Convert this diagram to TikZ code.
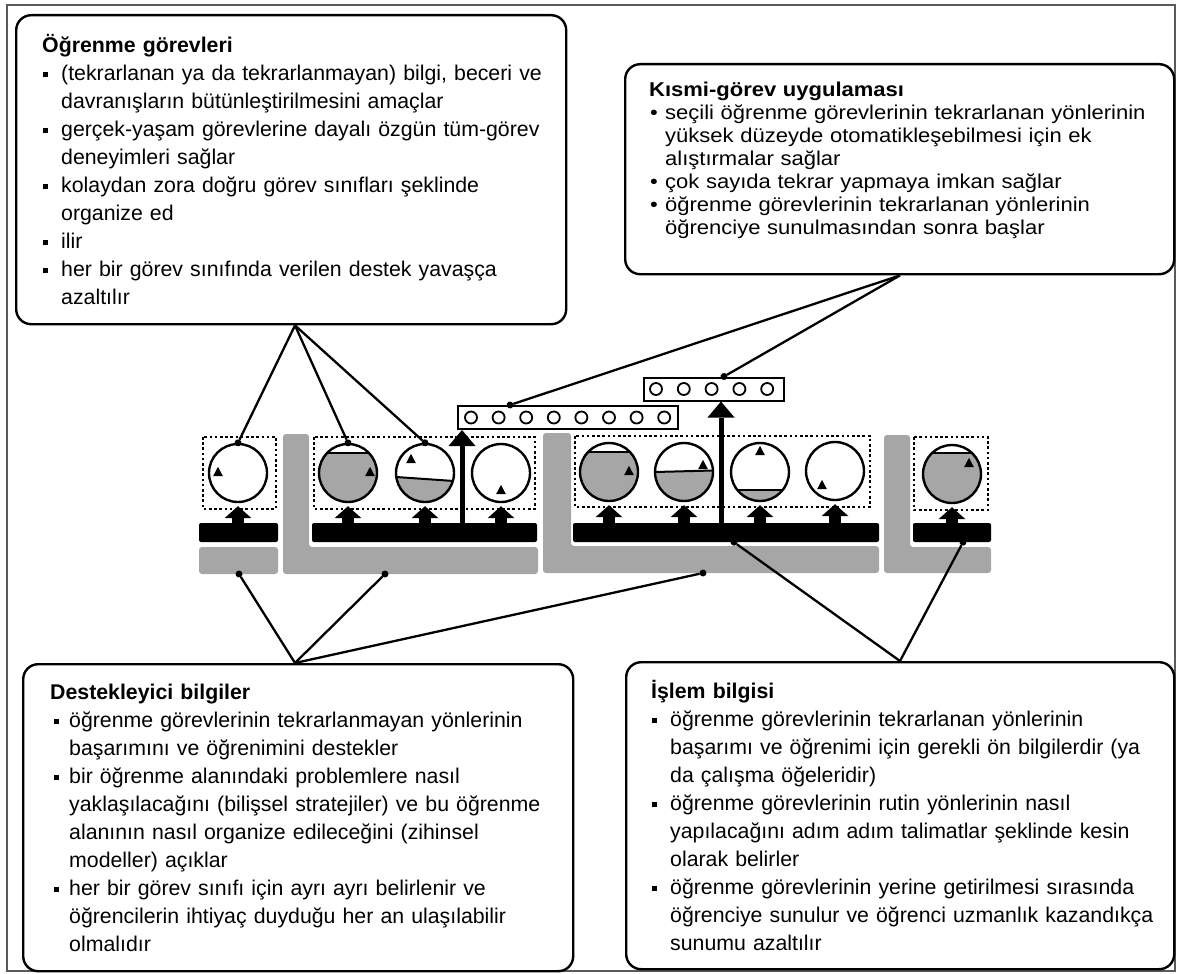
\documentclass[tikz,border=0pt]{standalone}
\usepackage{fontspec}
\setmainfont{Liberation Sans}
\newfontfamily\widefont[FakeStretch=1.1]{Liberation Sans}
\usetikzlibrary{arrows.meta, calc}
\definecolor{shadeGrey}{RGB}{166,166,166}
\definecolor{frameGrey}{RGB}{90,90,90}
\newcommand{\sqbullet}[1][1pt]{\par\hangindent=19pt\hangafter=1\noindent\hbox to 19pt{\hskip#1\rule[3.4pt]{5pt}{5pt}\hfil}\ignorespaces}
\newcommand{\rdbullet}{\par\hangindent=16pt\hangafter=1\noindent\hbox to 16pt{\hskip1pt\textbullet\hfil}\ignorespaces}
\tikzset{
    infobox/.style={
        draw, line width=2.4pt, rounded corners=15pt, anchor=north west,
        inner xsep=10pt, inner ysep=0pt, align=left,
        font=\fontsize{21.3}{28}\selectfont
    },
    task/.style={circle, draw, fill=white, line width=2.4pt, minimum size=58pt, inner sep=0pt},
    fillto/.style 2 args={path picture={
        \fill[shadeGrey] ([yshift=#1]path picture bounding box.west) -- ([yshift=#2]path picture bounding box.east)
            -- (path picture bounding box.south east) -- (path picture bounding box.south west) -- cycle;
        \draw[line width=2pt] ([yshift=#1]path picture bounding box.west) -- ([yshift=#2]path picture bounding box.east);}},
    taskclass/.style={line width=2.6pt, dash pattern=on 2.6pt off 2.6pt},
    solidbar/.style={fill=black, rounded corners=2pt, minimum height=19pt, inner sep=0pt},
    greyband/.style={fill=shadeGrey, rounded corners=3pt},
    practice/.style={draw, line width=2pt, fill=white, minimum height=23pt, inner sep=0pt},
    rep/.style={circle, draw, line width=1.8pt, minimum size=12pt, inner sep=0pt},
    lift/.style={line width=12pt, -{Triangle[length=12pt, width=27pt, line width=0pt]}, shorten >=3pt},
    rise/.style={line width=5pt, -{Triangle[length=16pt, width=27pt, line width=0pt]}},
    linkdot/.style={line width=2.3pt, -{Circle[length=7pt, line width=0pt]}, shorten >=-3.5pt},
    tri/.pic={\fill (-4.8,4) -- (4.8,4) -- (0,-5.2) -- cycle;}
}
\begin{document}
\begin{tikzpicture}[x=1pt, y=-1pt]
  \useasboundingbox (0,0) rectangle (1181,974);
  \draw[frameGrey, line width=1.2pt] (7,5) rectangle (1175,971);

  % supportive information (grey) and procedural information (black)
  \fill[greyband] (199,547) rectangle (278,574);
  \fill[greyband] (283,434) -- (309,434) -- (309,547) -- (538,547) -- (538,574) -- (283,574) -- cycle;
  \fill[greyband] (543,433) -- (571,433) -- (571,546) -- (879,546) -- (879,573) -- (543,573) -- cycle;
  \fill[greyband] (884,435) -- (910,435) -- (910,547) -- (991,547) -- (991,573) -- (884,573) -- cycle;
  \coordinate (sup1) at (239,574);
  \coordinate (sup2) at (385,574);
  \coordinate (sup3) at (703,573);
  \node[solidbar, minimum width=79pt]  (bar1) at (238.5,532.5) {};
  \node[solidbar, minimum width=225pt] (bar2) at (424.5,532.5) {};
  \node[solidbar, minimum width=306pt] (bar3) at (726,532.5) {};
  \node[solidbar, minimum width=78pt]  (bar4) at (952,532.5) {};

  % task classes
  \draw[taskclass] (203,437) rectangle (276,509);
  \draw[taskclass] (314,437) rectangle (535,509);
  \draw[taskclass] (575,436) rectangle (870,507);
  \draw[taskclass] (914,437) rectangle (988,510);

  \node[task] (c1) at (238,473) {};
  \node[task, fillto={20pt}{20pt}] (c2) at (348,473) {};
  \node[task, fillto={-4pt}{-8pt}] (c3) at (425,473) {};
  \node[task] (c4) at (501,473) {};
  \node[task, fillto={20pt}{20pt}] (c5) at (609,472) {};
  \node[task, fillto={0pt}{1.5pt}] (c6) at (684,472) {};
  \node[task, fillto={-18pt}{-18pt}] (c7) at (760,472) {};
  \node[task] (c8) at (835,471) {};
  \node[task, fillto={21pt}{21pt}] (c9) at (952,474) {};
  \pic at ($(c1)+(-20,-1)$) {tri};
  \pic at ($(c2)+(22,-1)$) {tri};
  \pic at ($(c3)+(-14,-14)$) {tri};
  \pic at ($(c4)+(0,17)$) {tri};
  \pic at ($(c5)+(20,-1)$) {tri};
  \pic at ($(c6)+(19,-7)$) {tri};
  \pic at ($(c7)+(0,-21)$) {tri};
  \pic at ($(c8)+(-13,14)$) {tri};
  \pic at ($(c9)+(17,-11)$) {tri};

  \foreach \c/\b in {c1/bar1, c2/bar2, c3/bar2, c4/bar2, c5/bar3, c6/bar3, c7/bar3, c8/bar3, c9/bar4}
    \draw[lift] (\c |- \b.north) -- (\c.south);

  % part-task practice
  \node[practice, minimum width=220pt] (practice1) at (568,417.5) {};
  \node[practice, minimum width=140pt] (practice2) at (714,389) {};
  \foreach \i in {0,...,7}
    \node[rep] at ($(practice1.west)+(14+27.6*\i,0)$) {};
  \foreach \i in {0,...,4}
    \node[rep] at ($(practice2.west)+(13+27.8*\i,0)$) {};
  \coordinate (rise1) at ($(practice1.south west)+(5,0)$);
  \coordinate (rise2) at ($(practice2.south west)+(78,0)$);
  \draw[rise] (rise1 |- bar2.center) -- (rise1);
  \draw[rise] (rise2 |- bar3.center) -- (rise2);

  % text boxes
  \node[infobox, minimum width=550pt, minimum height=309pt, text width=530pt] (tasks) at (15,14) {\leftskip=16pt
    \textbf{Öğrenme görevleri}
    \sqbullet (tekrarlanan ya da tekrarlanmayan) bilgi, beceri ve\newline davranışların bütünleştirilmesini amaçlar
    \sqbullet gerçek-yaşam görevlerine dayalı özgün tüm-görev\newline deneyimleri sağlar
    \sqbullet kolaydan zora doğru görev sınıfları şeklinde\newline organize ed
    \sqbullet ilir
    \sqbullet her bir görev sınıfında verilen destek yavaşça\newline azaltılır\par};
  \node[infobox, minimum width=549pt, minimum height=210pt, text width=529pt,
        font=\widefont\fontsize{20}{23}\selectfont] (drill) at (624,63) {\leftskip=14pt
    \textbf{Kısmi-görev uygulaması}
    \rdbullet seçili öğrenme görevlerinin tekrarlanan yönlerinin\newline yüksek düzeyde otomatikleşebilmesi için ek\newline alıştırmalar sağlar
    \rdbullet çok sayıda tekrar yapmaya imkan sağlar
    \rdbullet öğrenme görevlerinin tekrarlanan yönlerinin\newline öğrenciye sunulmasından sonra başlar\rule[-21pt]{0pt}{1pt}\par};
  \node[infobox, minimum width=550pt, minimum height=307pt, text width=530pt] (support) at (22,663) {\leftskip=17pt
    \textbf{Destekleyici bilgiler}
    \sqbullet[4pt] öğrenme görevlerinin tekrarlanmayan yönlerinin\newline başarımını ve öğrenimini destekler
    \sqbullet[4pt] bir öğrenme alanındaki problemlere nasıl\newline yaklaşılacağını (bilişsel stratejiler) ve bu öğrenme\newline alanının nasıl organize edileceğini (zihinsel\newline modeller) açıklar
    \sqbullet[4pt] her bir görev sınıfı için ayrı ayrı belirlenir ve\newline öğrencilerin ihtiyaç duyduğu her an ulaşılabilir\newline olmalıdır\par};
  \node[infobox, minimum width=548pt, minimum height=307pt, text width=528pt] (procedure) at (625,661) {\leftskip=15pt
    \textbf{İşlem bilgisi}
    \sqbullet öğrenme görevlerinin tekrarlanan yönlerinin\newline başarımı ve öğrenimi için gerekli ön bilgilerdir (ya\newline da çalışma öğeleridir)
    \sqbullet öğrenme görevlerinin rutin yönlerinin nasıl\newline yapılacağını adım adım talimatlar şeklinde kesin\newline olarak belirler
    \sqbullet öğrenme görevlerinin yerine getirilmesi sırasında\newline öğrenciye sunulur ve öğrenci uzmanlık kazandıkça\newline sunumu azaltılır\par};

  % connectors
  \coordinate (tasksTip) at ($(tasks.south west)+(280,0)$);
  \coordinate (drillTip) at ($(drill.south west)+(276,0)$);
  \coordinate (supportTip) at ($(support.north west)+(273,0)$);
  \coordinate (procedureTip) at ($(procedure.north west)+(275,0)$);
  \draw[linkdot] (tasksTip) -- (c1.north);
  \draw[linkdot] (tasksTip) -- (c2.north);
  \draw[linkdot] (tasksTip) -- (c3.north);
  \draw[linkdot] (drillTip) -- ($(practice1.north west)+(53,0)$);
  \draw[linkdot] (drillTip) -- ($(practice2.north west)+(81,0)$);
  \draw[linkdot] (supportTip) -- (sup1);
  \draw[linkdot] (supportTip) -- (sup2);
  \draw[linkdot] (supportTip) -- (sup3);
  \draw[linkdot] (procedureTip) -- ([xshift=8pt]bar3.south);
  \draw[linkdot] (procedureTip) -- ([xshift=11pt]bar4.south);
\end{tikzpicture}
\end{document}
